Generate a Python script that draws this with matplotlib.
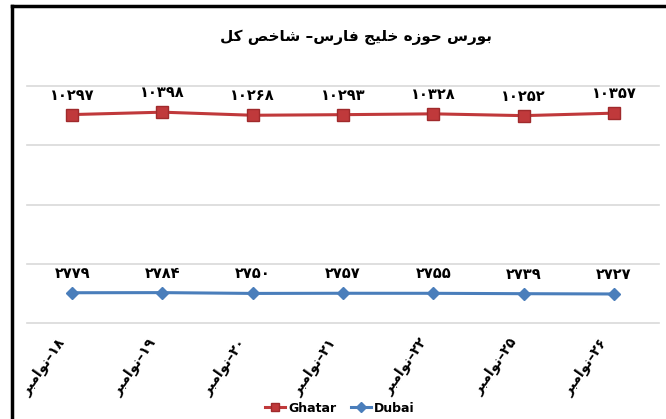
import matplotlib
matplotlib.use('Agg')
import matplotlib.pyplot as plt
import matplotlib.transforms as mtransforms
from matplotlib.lines import Line2D

# Data
dates = ['۱۸–نوامبر', '۱۹–نوامبر', '۲۰–نوامبر', '۲۱–نوامبر',
         '۲۲–نوامبر', '۲۵–نوامبر', '۲۶–نوامبر']
ghatar = [10297, 10398, 10268, 10293, 10328, 10252, 10357]
dubai = [2779, 2784, 2750, 2757, 2755, 2739, 2727]
title = 'بورس حوزه خلیج فارس– شاخص کل'
fa_digits = '۰۱۲۳۴۵۶۷۸۹'

# Arabic letter forms: isolated, final, initial, medial
FORMS = {
    'ا': ('\ufe8d', '\ufe8e', None, None),
    'ب': ('\ufe8f', '\ufe90', '\ufe91', '\ufe92'),
    'ج': ('\ufe9d', '\ufe9e', '\ufe9f', '\ufea0'),
    'ح': ('\ufea1', '\ufea2', '\ufea3', '\ufea4'),
    'خ': ('\ufea5', '\ufea6', '\ufea7', '\ufea8'),
    'ر': ('\ufead', '\ufeae', None, None),
    'ز': ('\ufeaf', '\ufeb0', None, None),
    'س': ('\ufeb1', '\ufeb2', '\ufeb3', '\ufeb4'),
    'ش': ('\ufeb5', '\ufeb6', '\ufeb7', '\ufeb8'),
    'ص': ('\ufeb9', '\ufeba', '\ufebb', '\ufebc'),
    'ف': ('\ufed1', '\ufed2', '\ufed3', '\ufed4'),
    'ل': ('\ufedd', '\ufede', '\ufedf', '\ufee0'),
    'م': ('\ufee1', '\ufee2', '\ufee3', '\ufee4'),
    'ن': ('\ufee5', '\ufee6', '\ufee7', '\ufee8'),
    'ه': ('\ufee9', '\ufeea', '\ufeeb', '\ufeec'),
    'و': ('\ufeed', '\ufeee', None, None),
    'ی': ('\ufbfc', '\ufbfd', '\ufbfe', '\ufbff'),
    'ک': ('\ufb8e', '\ufb8f', '\ufb90', '\ufb91'),
}


def shape(text):
    out = []
    for i, c in enumerate(text):
        if c not in FORMS:
            out.append(c)
            continue
        f = FORMS[c]
        prev = text[i - 1] if i > 0 else None
        nxt = text[i + 1] if i + 1 < len(text) else None
        jp = prev in FORMS and FORMS[prev][2] is not None
        jn = nxt in FORMS and f[2] is not None
        if jp and jn:
            out.append(f[3])
        elif jp:
            out.append(f[1])
        elif jn:
            out.append(f[2])
        else:
            out.append(f[0])
    return ''.join(out)


def rtl(text):
    # shape, then lay out right-to-left keeping digit runs in order
    s = shape(text)
    runs, cur = [], ''
    for c in s:
        if cur and ((c in fa_digits) != (cur[-1] in fa_digits)):
            runs.append(cur)
            cur = ''
        cur += c
    runs.append(cur)
    runs = [r if r[0] in fa_digits else r[::-1] for r in runs]
    return ''.join(runs[::-1])


def fa_num(v):
    return ''.join(fa_digits[int(d)] for d in str(v))


plt.rcParams['font.family'] = ['DejaVu Sans']

fig = plt.figure(figsize=(6.66, 4.19), dpi=100)
ax = fig.add_axes([0.0405, 0.229, 0.949, 0.5656])

x = range(len(dates))
red = '#C0393B'
blue = '#4A7EBB'
ax.plot(x, ghatar, color=red, lw=2.2, marker='s', ms=8, mfc=red, mec='#A02A2C',
        label='Ghatar')
ax.plot(x, dubai, color=blue, lw=2.2, marker='D', ms=6.5, mfc=blue, mec=blue,
        label='Dubai')

for i in x:
    ax.annotate(fa_num(ghatar[i]), (i, ghatar[i]), xytext=(0, 14),
                textcoords='offset points', ha='center', va='center',
                fontsize=10.5, fontweight='bold')
    ax.annotate(fa_num(dubai[i]), (i, dubai[i]), xytext=(0, 14),
                textcoords='offset points', ha='center', va='center',
                fontsize=10.5, fontweight='bold')

ax.set_xlim(-0.5, len(dates) - 0.5)
ax.set_ylim(1500, 11500)
ax.set_yticks([1500, 4000, 6500, 9000, 11500])
ax.yaxis.grid(True, color='#D9D9D9', lw=1.2)
for gl in ax.get_ygridlines():
    gl.set_clip_on(False)
ax.set_axisbelow(True)
ax.tick_params(axis='y', length=0, labelleft=False)
ax.tick_params(axis='x', length=0, pad=12)
ax.set_xticks(list(x))
ax.set_xticklabels([rtl(d) for d in dates], rotation=55, ha='right',
                   va='center', rotation_mode='anchor', fontsize=10,
                   fontweight='bold')
shift = mtransforms.ScaledTranslation(-7 / 72, 0, fig.dpi_scale_trans)
for lab in ax.get_xticklabels():
    lab.set_transform(lab.get_transform() + shift)
for s in ax.spines.values():
    s.set_visible(False)

fig.text(0.535, 0.912, rtl(title), ha='center', va='center',
         fontsize=11, fontweight='bold')

ax.legend(loc='center', bbox_to_anchor=(0.495, -0.36), ncol=2, frameon=False,
          handlelength=1.6, handletextpad=0.2, columnspacing=1.2,
          markerscale=0.8, prop={'weight': 'bold', 'size': 9})

# outer frame (left and top edges visible)
fig.add_artist(Line2D([12 / 666, 12 / 666], [0, 1 - 6 / 419], color='black',
                      lw=2.5, transform=fig.transFigure))
fig.add_artist(Line2D([12 / 666, 1], [1 - 6 / 419, 1 - 6 / 419],
                      color='black', lw=2.5, transform=fig.transFigure))

fig.savefig('out.png', dpi=100)
